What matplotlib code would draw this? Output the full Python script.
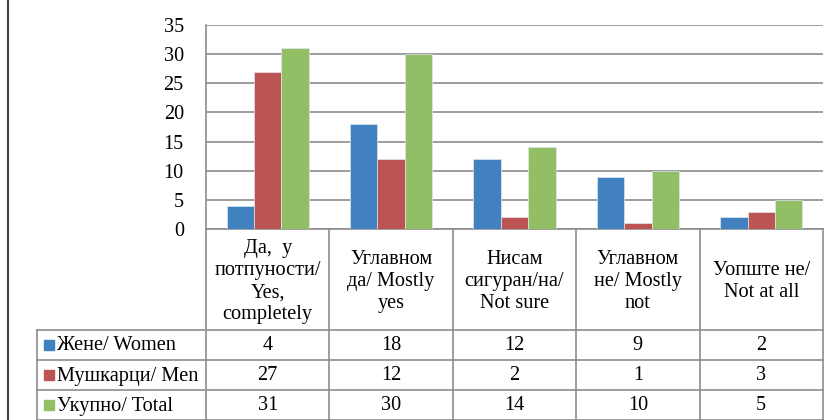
import numpy as np
import matplotlib
matplotlib.use('Agg')
import matplotlib.pyplot as plt

plt.rcParams['font.family'] = ['Liberation Serif', 'DejaVu Serif']

categories = ['Да,  у\nпотпуности/\nYes,\ncompletely',
              'Углавном\nда/ Mostly\nyes',
              'Нисам\nсигуран/на/\nNot sure',
              'Углавном\nне/ Mostly\nnot',
              'Уопште не/\nNot at all']
series_names = ['Жене/ Women', 'Мушкарци/ Men', 'Укупно/ Total']
women = [4, 18, 12, 9, 2]
men = [27, 12, 2, 1, 3]
total = [31, 30, 14, 10, 5]
yticks = [0, 5, 10, 15, 20, 25, 30, 35]

colors = ['#4181C0', '#BC5454', '#92BF66']
grid_c = '#8C8C8C'
W, H = 828, 420
fs = 14.6

fig = plt.figure(figsize=(W / 100, H / 100), dpi=100)

# plot area in pixels
px0, px1, py0, py1 = 206, 823, 25, 229
ax = fig.add_axes([px0 / W, 1 - py1 / H, (px1 - px0) / W, (py1 - py0) / H])

n = len(categories)
x = np.arange(n)
bw = 1 / 4.5
for i, (vals, c) in enumerate(zip([women, men, total], colors)):
    ax.bar(x + (i - 1) * bw, vals, width=bw, color=c, edgecolor='#dde6ee', linewidth=0.5, zorder=3)

ax.set_xlim(-0.5, n - 0.5)
ax.set_ylim(0, 35)
ax.set_yticks(yticks)
ax.set_yticklabels([str(t) for t in yticks], fontsize=fs)
ax.tick_params(axis='y', length=0, pad=16)
ax.set_xticks([])
ax.yaxis.grid(True, color=grid_c, linewidth=1.2)
for s in ['top', 'right']:
    ax.spines[s].set_visible(False)
ax.spines['left'].set_color(grid_c)
ax.spines['bottom'].set_color(grid_c)
ax.spines['left'].set_linewidth(1.2)
ax.spines['bottom'].set_linewidth(1.2)

# data table drawn in pixel coordinates
tax = fig.add_axes([0, 0, 1, 1])
tax.set_xlim(0, W)
tax.set_ylim(H, 0)
tax.axis('off')

cw = (px1 - px0) / n
head_bot = 330
row_h = 30
lx = 37
lw = 1.2

for j in range(n + 1):
    xx = px0 + j * cw
    tax.plot([xx, xx], [py1, H], color=grid_c, lw=lw)
for r in range(len(series_names) + 1):
    yy = head_bot + r * row_h
    tax.plot([lx, px1], [yy, yy], color=grid_c, lw=lw)
tax.plot([lx, lx], [head_bot, H], color=grid_c, lw=lw)

for j, lab in enumerate(categories):
    tax.text(px0 + (j + 0.5) * cw, (py1 + head_bot) / 2 + 2, lab, ha='center', va='center',
             fontsize=fs, linespacing=1.23)

for r, (name, vals, c) in enumerate(zip(series_names, [women, men, total], colors)):
    yc = head_bot + (r + 0.5) * row_h
    tax.add_patch(plt.Rectangle((44, yc - 5), 10, 10, color=c))
    tax.text(57, yc + 1, name, ha='left', va='center', fontsize=fs)
    for j, v in enumerate(vals):
        tax.text(px0 + (j + 0.5) * cw, yc + 1, str(v), ha='center', va='center', fontsize=fs)

# outer border on the left
tax.plot([8, 8], [0, H], color='#404040', lw=1.5)

fig.savefig('out.png', dpi=100)
